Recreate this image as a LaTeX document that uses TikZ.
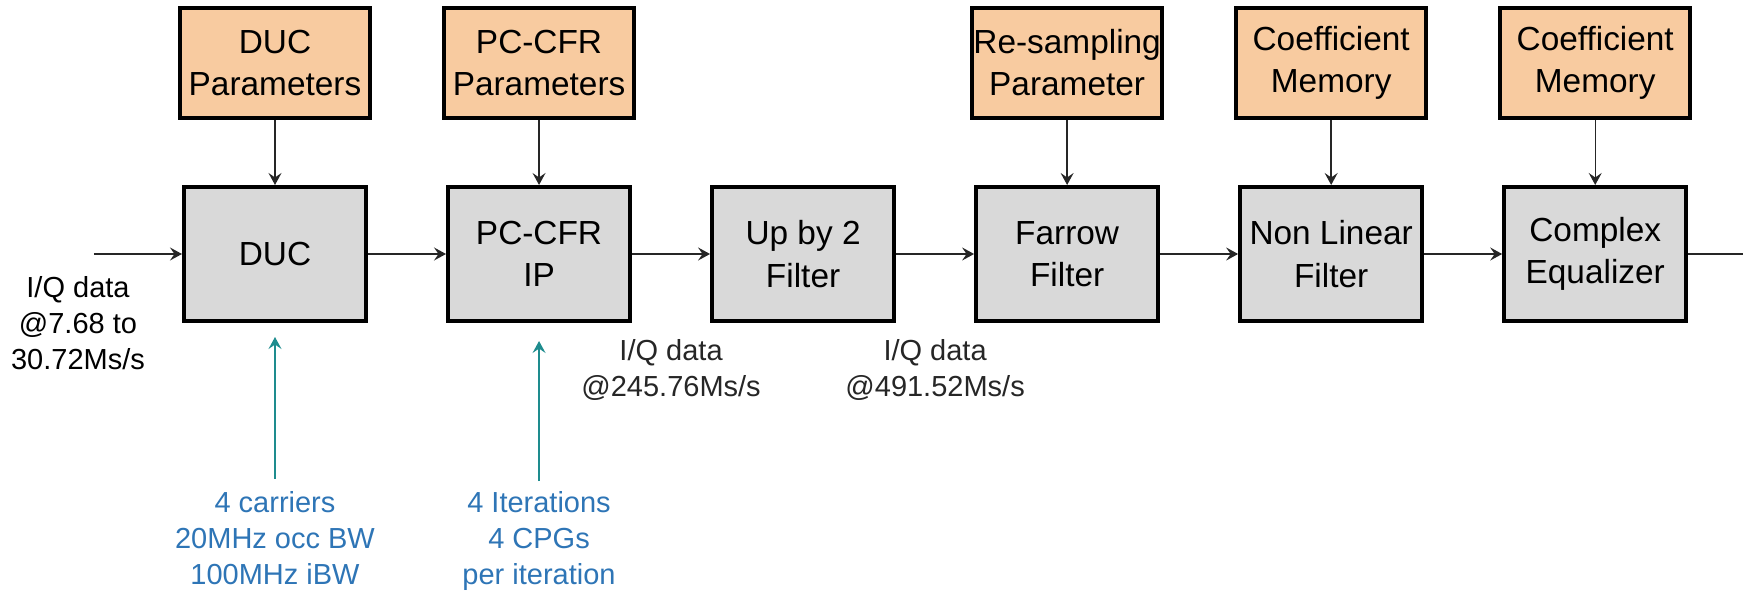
\documentclass[tikz,border=0pt]{standalone}
\usepackage{fontspec}
\setmainfont{Liberation Sans}
\usepackage{tikz}
\usetikzlibrary{arrows.meta, positioning}
\definecolor{paramfill}{HTML}{F8CBA0}
\definecolor{blockfill}{HTML}{D9D9D9}
\definecolor{tealline}{HTML}{1E8C8E}
\definecolor{noteblue}{HTML}{2E75B6}

\begin{document}
\begin{tikzpicture}[
  node distance=1.3cm and 1.56cm,
  block/.style={rectangle, draw=black, line width=2.3pt, fill=blockfill,
                minimum width=3.64cm, minimum height=2.68cm, inner sep=0pt,
                align=center, font=\fontsize{19}{24}\selectfont},
  param/.style={block, fill=paramfill, minimum width=3.8cm, minimum height=2.2cm},
  rate/.style={align=center, inner sep=0pt, font=\fontsize{16.5}{20.5}\selectfont},
  note/.style={rate, text=noteblue},
  arrow/.style={-{Stealth[length=2.4mm, width=2.6mm, inset=0.9mm]}, line width=0.8pt, color=black!85},
  setarrow/.style={arrow, color=tealline}
]
  \useasboundingbox (0,0) rectangle (34.86,11.8);

  % main chain
  \node[block] at (5.5,6.72) (duc) {DUC};
  \node[block, right=of duc] (pccfr) {PC-CFR\\IP};
  \node[block, right=of pccfr] (upby) {Up by 2\\Filter};
  \node[block, right=of upby] (farrow) {Farrow\\Filter};
  \node[block, right=of farrow] (nonlin) {Non Linear\\Filter};
  \node[block, right=of nonlin] (cpxeq) {Complex\\Equalizer};

  % parameter blocks
  \node[param, above=of duc] (ducpar) {DUC\\Parameters};
  \node[param, above=of pccfr] (cfrpar) {PC-CFR\\Parameters};
  \node[param, above=of farrow] (rspar) {Re-sampling\\Parameter};
  \node[param, above=of nonlin] (coefa) {Coefficient\\Memory};
  \node[param, above=of cpxeq] (coefb) {Coefficient\\Memory};

  \coordinate[left=1.76cm of duc] (in);
  \coordinate[right=1.34cm of cpxeq] (out);

  \node[rate] at (1.56,5.34) (inrate) {I/Q data\\@7.68 to\\30.72Ms/s};

  % settings below
  \node[note, below=3.36cm of duc] (ducnote) {4 carriers\\20MHz occ BW\\100MHz iBW};
  \node[note, below=3.36cm of pccfr] (cfrnote) {4 Iterations\\4 CPGs\\per iteration};

  \draw[arrow] (in) -- (duc);
  \draw[arrow] (duc) -- (pccfr);
  \draw[arrow] (pccfr) -- node[rate, below=1.7cm] (rate1) {I/Q data\\@245.76Ms/s} (upby);
  \draw[arrow] (upby) -- node[rate, below=1.7cm] (rate2) {I/Q data\\@491.52Ms/s} (farrow);
  \draw[arrow] (farrow) -- (nonlin);
  \draw[arrow] (nonlin) -- (cpxeq);
  \draw[arrow] (cpxeq) -- (out);

  \draw[arrow] (ducpar) -- (duc);
  \draw[arrow] (cfrpar) -- (pccfr);
  \draw[arrow] (rspar) -- (farrow);
  \draw[arrow] (coefa) -- (nonlin);
  \draw[arrow] (coefb) -- (cpxeq);

  \draw[setarrow, shorten <=0.25cm, shorten >=0.28cm] (ducnote) -- (duc);
  \draw[setarrow, shorten <=0.2cm, shorten >=0.36cm] (cfrnote.north -| pccfr) -- (pccfr);
\end{tikzpicture}
\end{document}
